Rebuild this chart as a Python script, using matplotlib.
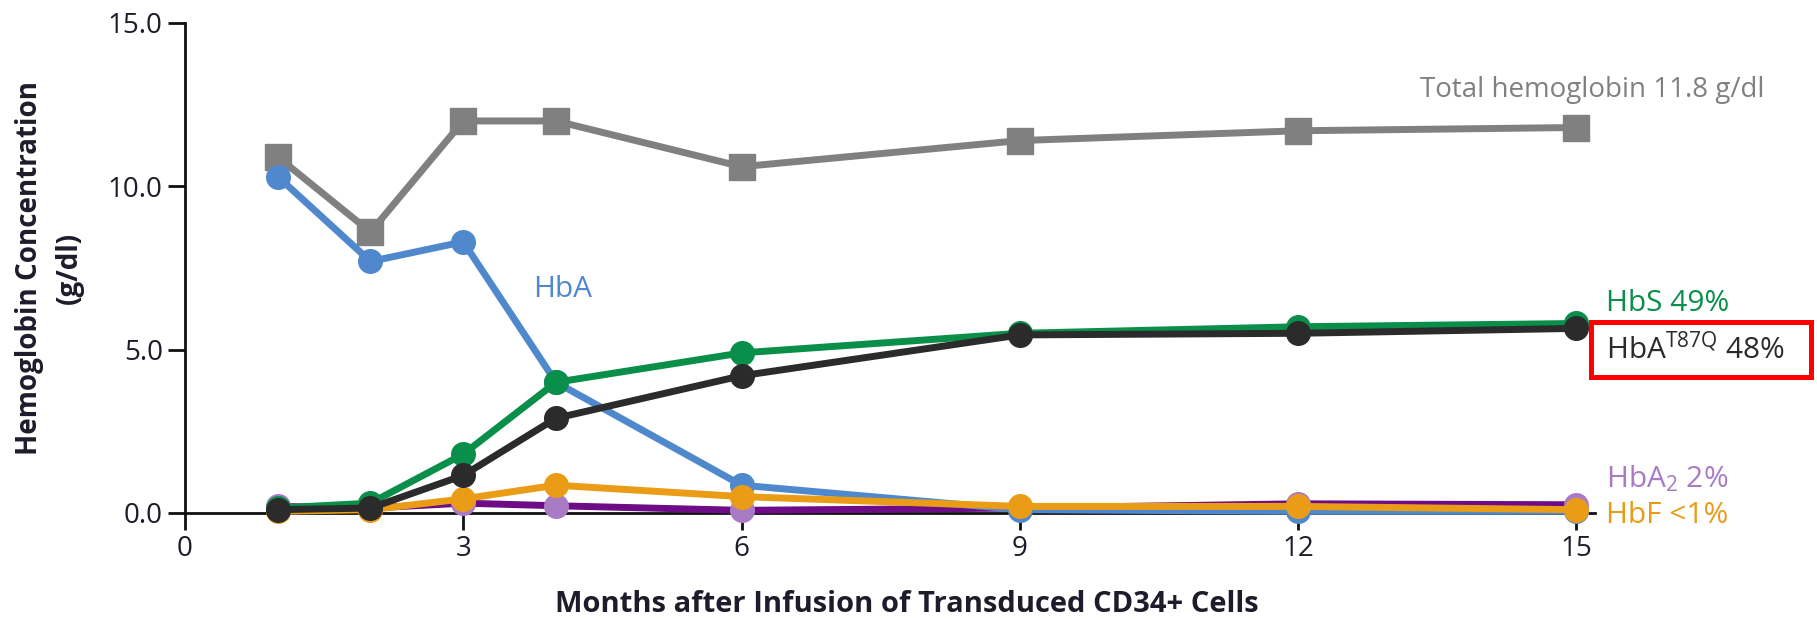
import matplotlib.pyplot as plt
from matplotlib.patches import Rectangle

plt.rcParams['font.family'] = ['Open Sans', 'DejaVu Sans']
plt.rcParams['mathtext.fontset'] = 'custom'
plt.rcParams['mathtext.rm'] = 'Open Sans'
plt.rcParams['mathtext.it'] = 'Open Sans'

# Hemoglobin fractions (g/dl) by month after infusion
months = [1, 2, 3, 4, 6, 9, 12, 15]
total_hb = [10.9, 8.6, 12.0, 12.0, 10.6, 11.4, 11.7, 11.8]
hba = [10.3, 7.7, 8.3, 4.0, 0.85, 0.1, 0.05, 0.05]
hbs = [0.15, 0.3, 1.8, 4.0, 4.9, 5.5, 5.7, 5.8]
hba_t87q = [0.1, 0.15, 1.15, 2.9, 4.2, 5.45, 5.5, 5.65]
hba2 = [0.2, 0.15, 0.3, 0.22, 0.08, 0.15, 0.28, 0.25]
hbf = [0.05, 0.1, 0.43, 0.85, 0.5, 0.2, 0.2, 0.1]

xticks = [0, 3, 6, 9, 12, 15]
yticks = [0, 5, 10, 15]

GRAY = '#808080'
BLUE = '#4f88cc'
GREEN = '#0a8f4b'
BLACK = '#2b2b2b'
ORANGE = '#eb9c17'
PURPLE = '#6e0b87'
LILAC = '#a97bc5'
TEXT = '#1c1c2a'

fig = plt.figure(figsize=(18.17, 6.21), dpi=100)
ax = fig.add_axes([0.1018, 0.174, 0.776, 0.789])

lw = 5
ms = 17
ax.plot(months, total_hb, color=GRAY, lw=lw, marker='s', ms=19, zorder=3, clip_on=False)
ax.plot(months, hba2, color=PURPLE, lw=lw, marker='o', ms=ms, mfc=LILAC, mec=LILAC, zorder=4, clip_on=False)
ax.plot(months, hba, color=BLUE, lw=lw, marker='o', ms=ms, zorder=5, clip_on=False)
ax.plot(months, hbf, color=ORANGE, lw=lw, marker='o', ms=ms, zorder=6, clip_on=False)
ax.plot(months, hbs, color=GREEN, lw=lw, marker='o', ms=ms, zorder=7, clip_on=False)
ax.plot(months, hba_t87q, color=BLACK, lw=lw, marker='o', ms=ms, zorder=8, clip_on=False)

ax.set_xlim(0, 15.2)
ax.set_ylim(0, 15)
ax.set_xticks(xticks)
ax.set_yticks(yticks)
ax.set_yticklabels([f'{v:.1f}' for v in yticks])
ax.tick_params(axis='both', direction='out', length=12, width=2, color='#111111',
               labelsize=20, labelcolor=TEXT, pad=4)

for side in ['top', 'right']:
    ax.spines[side].set_visible(False)
for side in ['left', 'bottom']:
    ax.spines[side].set_linewidth(2)
    ax.spines[side].set_color('#111111')

ax.set_xlabel('Months after Infusion of Transduced CD34+ Cells', fontsize=21,
              fontweight='bold', color=TEXT, va='center')
ax.xaxis.set_label_coords(0.512, -0.186)
ax.set_ylabel('Hemoglobin Concentration\n(g/dl)', fontsize=20, fontweight='bold',
              color=TEXT, linespacing=1.5, va='center')
ax.yaxis.set_label_coords(-0.096, 0.5)

# Series labels
ax.text(17.03, 12.95, 'Total hemoglobin 11.8 g/dl', color=GRAY, fontsize=20,
        ha='right', va='center', clip_on=False)
fs = 21.5
ax.text(4.07, 6.83, 'HbA', color=BLUE, fontsize=fs, ha='center', va='center')
ax.text(15.32, 6.4, 'HbS 49%', color=GREEN, fontsize=fs, ha='left', va='center')
ax.text(15.32, 5.0, r'HbA$^{\mathrm{T87Q}}$ 48%', color=BLACK, fontsize=fs,
        ha='left', va='center')
ax.text(15.32, 1.05, r'HbA$_{2}$ 2%', color=LILAC, fontsize=fs, ha='left', va='center')
ax.text(15.32, -0.08, 'HbF <1%', color=ORANGE, fontsize=fs, ha='left', va='center')

# Red highlight frame around the HbA T87Q label
ax.add_patch(Rectangle((0.997, 0.278), 0.156, 0.112, transform=ax.transAxes,
                       fill=False, ec='#ff0000', lw=3.6, clip_on=False))

fig.savefig('out.png', dpi=100, facecolor='white')
